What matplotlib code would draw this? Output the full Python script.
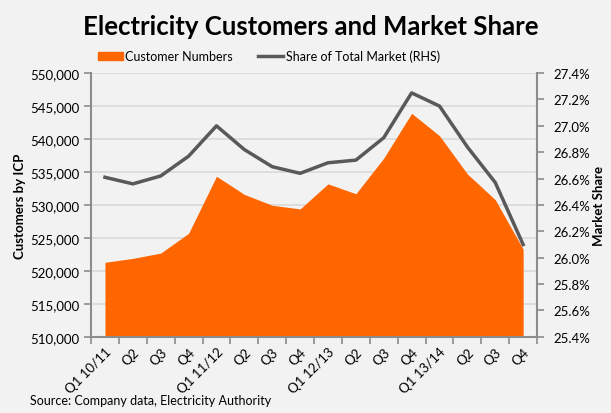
import matplotlib.pyplot as plt
import matplotlib.patches as mpatches
import matplotlib.lines as mlines
from matplotlib.ticker import FuncFormatter, MultipleLocator
import numpy as np

plt.rcParams['font.family'] = ['Lato', 'DejaVu Sans']

quarters = ['Q1 10/11', 'Q2', 'Q3', 'Q4', 'Q1 11/12', 'Q2', 'Q3', 'Q4',
            'Q1 12/13', 'Q2', 'Q3', 'Q4', 'Q1 13/14', 'Q2', 'Q3', 'Q4']
customers = [521300, 521900, 522700, 525700, 534350, 531600, 529950, 529400,
             533200, 531700, 537100, 543900, 540500, 534700, 530800, 523300]
share = [26.61, 26.56, 26.62, 26.77, 27.00, 26.82, 26.69, 26.64,
         26.72, 26.74, 26.91, 27.25, 27.15, 26.84, 26.57, 26.10]

bg = '#f2f2f2'
orange = '#ff6600'
grey_line = '#595959'
spine_c = '#8c8c8c'

fig = plt.figure(figsize=(6.11, 4.14), dpi=100, facecolor=bg)
ax = fig.add_axes([0.149, 0.184, 0.730, 0.637], facecolor=bg)
x = np.arange(len(quarters))

ax.fill_between(x, customers, 510000, color=orange, lw=0, zorder=2)
ax.set_ylim(510000, 550000)
ax.set_xlim(-0.5, len(quarters) - 0.5)
ax.yaxis.set_major_locator(MultipleLocator(5000))
ax.yaxis.set_major_formatter(FuncFormatter(lambda v, p: f'{int(v):,}'))
ax.grid(axis='y', color='#d9d9d9', lw=1.2, zorder=0)
ax.set_axisbelow(True)

ax.set_xticks(x)
ax.set_xticklabels(quarters, rotation=45, ha='right', rotation_mode='anchor', fontsize=9.5)
ax.tick_params(axis='x', which='major', length=0, pad=6)
ax.set_xticks(np.arange(-0.5, len(quarters)), minor=True)
ax.tick_params(axis='x', which='minor', length=5, color=spine_c, width=1.2)
ax.tick_params(axis='y', length=5, color=spine_c, width=1.2, labelsize=9.5)
for s in ['top', 'right']:
    ax.spines[s].set_visible(False)
for s in ['left', 'bottom']:
    ax.spines[s].set_color(spine_c)
    ax.spines[s].set_linewidth(1.5)
ax.set_ylabel('Customers by ICP', fontsize=9.5, fontweight='bold', labelpad=3)

ax2 = ax.twinx()
ax2.plot(x, share, color=grey_line, lw=2.5, zorder=3)
ax2.set_ylim(25.4, 27.4)
ax2.yaxis.set_major_locator(MultipleLocator(0.2))
ax2.yaxis.set_major_formatter(FuncFormatter(lambda v, p: f'{v:.1f}%'))
ax2.tick_params(axis='y', length=5, color=spine_c, width=1.2, labelsize=9.5, pad=7)
for s in ['top', 'left', 'bottom']:
    ax2.spines[s].set_visible(False)
ax2.spines['right'].set_color(spine_c)
ax2.spines['right'].set_linewidth(1.5)
ax2.set_ylabel('Market Share', fontsize=9.5, fontweight='bold', labelpad=2)

fig.text(0.508, 0.935, 'Electricity Customers and Market Share', ha='center', va='center',
         fontsize=18.5, fontweight='bold')

handles = [mpatches.Patch(color=orange, label='Customer Numbers'),
           mlines.Line2D([], [], color=grey_line, lw=2.5, label='Share of Total Market (RHS)')]
fig.legend(handles=handles, loc='center', bbox_to_anchor=(0.44, 0.862), ncol=2, frameon=False,
           fontsize=9, handlelength=2.0, handletextpad=0.2, columnspacing=2.0)

fig.text(0.049, 0.018, 'Source: Company data, Electricity Authority', fontsize=9, ha='left', va='bottom')

fig.savefig('out.png', dpi=100, facecolor=bg)
